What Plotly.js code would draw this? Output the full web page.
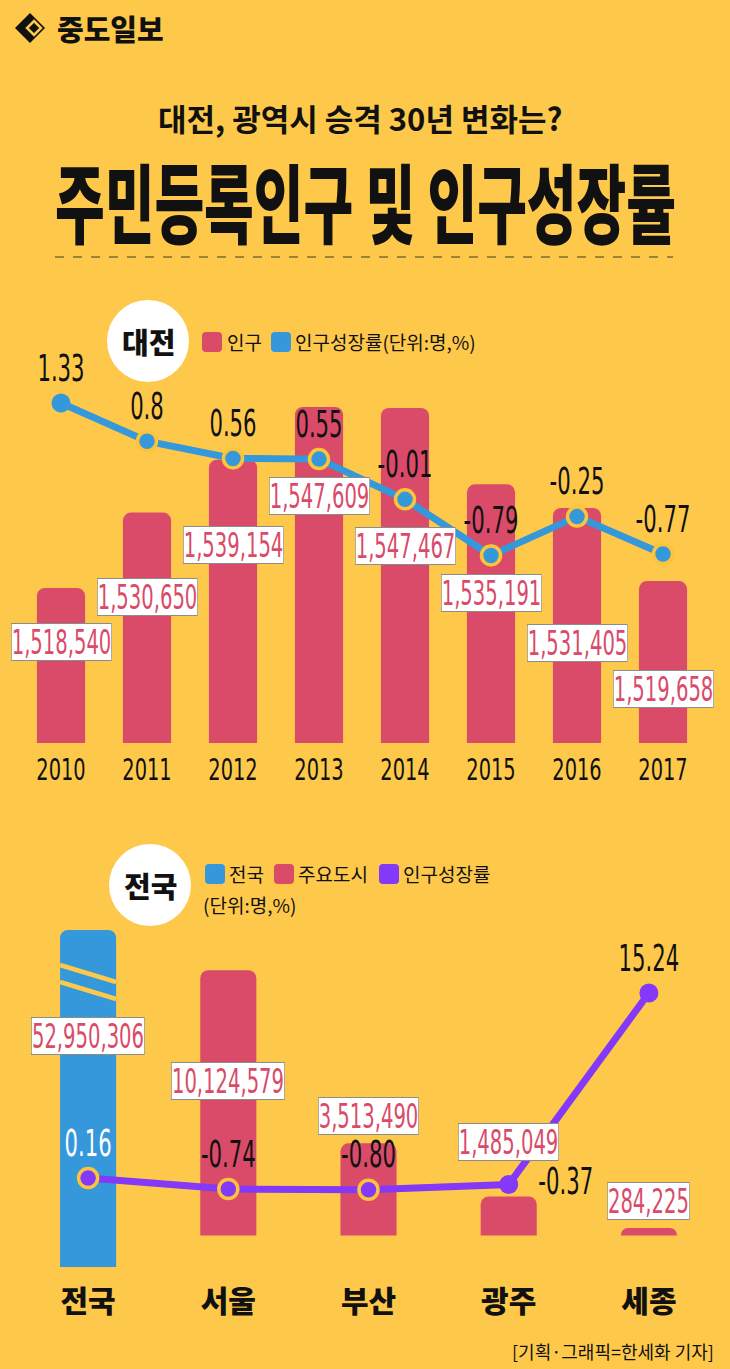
<!DOCTYPE html>
<html><head><meta charset="utf-8">
<script src="https://cdn.plot.ly/plotly-3.0.1.min.js"></script>
<style>html,body{margin:0;padding:0;background:#FEC94B;overflow:hidden;} #chart{width:730px;height:1369px;}</style>
</head><body><div id="chart"></div>
<script>
// ---------- data ----------
const years = ['2010','2011','2012','2013','2014','2015','2016','2017'];
const djPopulation = [1518540,1530650,1539154,1547609,1547467,1535191,1531405,1519658];
const djGrowth = [1.33,0.8,0.56,0.55,-0.01,-0.79,-0.25,-0.77];
const regions = ['전국','서울','부산','광주','세종'];
const nationName = ['전국'];
const nationPopulation = [52950306];
const cityNames = ['서울','부산','광주','세종'];
const cityPopulation = [10124579,3513490,1485049,284225];
const regionGrowth = [0.16,-0.74,-0.80,-0.37,15.24];

// ---------- styles ----------
const W = 730, H = 1369;
const PX = x => x / W, PY = y => 1 - y / H;
const BG = '#FEC94B', RED = '#D94B69', BLUE = '#3598DB', PURPLE = '#8438F8', RING = '#FDC43A';
const NUM = '"Liberation Sans Narrow","DejaVu Sans Condensed","Roboto Condensed",Roboto,sans-serif';
const KR = '"Noto Sans CJK KR","Noto Sans KR",sans-serif';
const fmt = v => v.toLocaleString('en-US');
const djLabelShift = [-54,-84,-85,-89,-138,-109,-135,-108];
const regionLabelShift = [-106,-111,27,54,27];

const data = [
  {type:'bar', x:years, y:djPopulation, xaxis:'x', yaxis:'y', width:0.56,
   marker:{color:RED, cornerradius:8}, hoverinfo:'skip'},
  {type:'scatter', mode:'lines+markers+text', x:years, y:djGrowth, xaxis:'x', yaxis:'y2',
   line:{color:BLUE, width:7}, marker:{size:19, color:BLUE, line:{color:RING, width:[0,3.5,3.5,3.5,3.5,3.5,3.5,3.5]}},
   text:djGrowth.map(v=>String(v)), textposition:'top center', cliponaxis:false,
   textfont:{family:NUM, size:38, color:'#111'}, hoverinfo:'skip'},
  {type:'bar', x:cityNames, y:cityPopulation, xaxis:'x2', yaxis:'y3', width:0.4,
   marker:{color:RED, cornerradius:8}, hoverinfo:'skip'},
  {type:'bar', x:nationName, y:nationPopulation, xaxis:'x2', yaxis:'y4', width:0.4,
   marker:{color:BLUE, cornerradius:8}, hoverinfo:'skip'},
  {type:'scatter', mode:'lines+markers+text', x:regions, y:regionGrowth, xaxis:'x2', yaxis:'y5',
   line:{color:PURPLE, width:7}, marker:{size:19, color:PURPLE, line:{color:RING, width:[3.5,3.5,3.5,0,0]}},
   text:regionGrowth.map(v=>v.toFixed(2)),
   textposition:['top center','top center','top center','middle right','top center'], cliponaxis:false,
   textfont:{family:NUM, size:38, color:['#fff','#111','#111','#111','#111']}, hoverinfo:'skip'}
];

function rrect(x0,y0,x1,y1,r){
  return `M${PX(x0+r)},${PY(y0)} L${PX(x1-r)},${PY(y0)} Q${PX(x1)},${PY(y0)} ${PX(x1)},${PY(y0+r)} `+
         `L${PX(x1)},${PY(y1-r)} Q${PX(x1)},${PY(y1)} ${PX(x1-r)},${PY(y1)} L${PX(x0+r)},${PY(y1)} `+
         `Q${PX(x0)},${PY(y1)} ${PX(x0)},${PY(y1-r)} L${PX(x0)},${PY(y0+r)} Q${PX(x0)},${PY(y0)} ${PX(x0+r)},${PY(y0)} Z`;
}
const sq = (x0,y0,c) => ({type:'path', xref:'paper', yref:'paper', path:rrect(x0,y0,x0+20,y0+20,4), fillcolor:c, line:{width:0}});
const circ = (cx,cy,r) => ({type:'circle', xref:'paper', yref:'paper', x0:PX(cx-r), x1:PX(cx+r), y0:PY(cy+r), y1:PY(cy-r), fillcolor:'#fff', line:{width:0}});
function diamond(cx,cy,r,c,lw,fill){
  return {type:'path', xref:'paper', yref:'paper',
    path:`M${PX(cx)},${PY(cy-r)} L${PX(cx+r)},${PY(cy)} L${PX(cx)},${PY(cy+r)} L${PX(cx-r)},${PY(cy)} Z`,
    fillcolor:fill, line:{color:c, width:lw}};
}

const shapes = [
  diamond(30,28,15,'#111',0,'#111'),
  diamond(34,28,7,BG,2.5,'rgba(0,0,0,0)'),
  {type:'line', xref:'paper', yref:'paper', x0:PX(55), x1:PX(673), y0:PY(257), y1:PY(257), line:{color:'#7d6c36', width:1.5, dash:'dash'}},
  circ(148,341,41),
  sq(202,332,RED), sq(271,332,BLUE),
  circ(150,885,41),
  sq(205,864,BLUE), sq(274,864,RED), sq(379,864,PURPLE),
  {type:'line', xref:'x2', yref:'paper', x0:-0.2, x1:0.2, y0:PY(965), y1:PY(982), line:{color:BG, width:4.5}, layer:'above'},
  {type:'line', xref:'x2', yref:'paper', x0:-0.2, x1:0.2, y0:PY(982), y1:PY(999), line:{color:BG, width:4.5}, layer:'above'}
];

const txt = (x,y,text,size,opts={}) => Object.assign({xref:'paper', yref:'paper', x:PX(x), y:PY(y), text, showarrow:false,
  xanchor:'center', yanchor:'middle', font:{family:KR, size, color:'#111'}}, opts);

const annotations = [
  txt(110,28,'중도일보',29,{font:{family:KR,size:29,color:'#111',weight:900}}),
  txt(360,117,'대전, 광역시 승격 30년 변화는?',31,{font:{family:KR,size:31,color:'#111',weight:700}}),
  txt(365,199,'주민등록인구 및 인구성장률',54,{font:{family:KR,size:54,color:'#111',weight:900}}),
  txt(148,341,'대전',29,{font:{family:KR,size:29,color:'#111',weight:900}}),
  txt(225,342,'인구',19,{xanchor:'left'}),
  txt(293,342,'인구성장률(단위:명,%)',19,{xanchor:'left'}),
  txt(150,885,'전국',29,{font:{family:KR,size:29,color:'#111',weight:900}}),
  txt(227,874,'전국',19,{xanchor:'left'}),
  txt(296,874,'주요도시',19,{xanchor:'left'}),
  txt(401,874,'인구성장률',19,{xanchor:'left'}),
  txt(201,904,'(단위:명,%)',19,{xanchor:'left'}),
  txt(716,1351,'[기획·그래픽=한세화 기자]',18,{xanchor:'right'})
];
const boxStyle = {showarrow:false, font:{family:NUM, size:33, color:RED}, bgcolor:'#fff', bordercolor:'#8c8c8c',
  borderwidth:1, borderpad:0, height:36, xanchor:'center', yanchor:'middle'};
years.forEach((yr,i)=>annotations.push(Object.assign({x:i, y:djPopulation[i], xref:'x', yref:'y',
  yshift:djLabelShift[i], text:fmt(djPopulation[i])}, boxStyle)));
annotations.push(Object.assign({x:0, y:nationPopulation[0], xref:'x2', yref:'y4',
  yshift:regionLabelShift[0], text:fmt(nationPopulation[0])}, boxStyle));
cityNames.forEach((c,i)=>annotations.push(Object.assign({x:regions.indexOf(c), y:cityPopulation[i], xref:'x2', yref:'y3',
  yshift:regionLabelShift[i+1], text:fmt(cityPopulation[i])}, boxStyle)));

const hidden = {visible:false, fixedrange:true};
const layout = {
  width:W, height:H, margin:{l:0,r:0,t:0,b:0}, paper_bgcolor:BG, plot_bgcolor:'rgba(0,0,0,0)',
  showlegend:false, barmode:'overlay',
  xaxis:{domain:[PX(18),PX(706)], anchor:'y', type:'category', range:[-0.5,7.5], showgrid:false, zeroline:false,
    showline:false, ticks:'', ticklabelstandoff:6, tickfont:{family:NUM, size:30, color:'#111'}},
  yaxis:Object.assign({domain:[PY(743),PY(370)], range:[1493650,1553550]}, hidden),
  yaxis2:Object.assign({overlaying:'y', range:[-3.40,1.79]}, hidden),
  xaxis2:{domain:[PX(18),PX(719)], anchor:'y3', type:'category', categoryorder:'array', categoryarray:regions,
    range:[-0.5,4.5], showgrid:false, zeroline:false, showline:false, ticks:'', ticklabelstandoff:14,
    tickfont:{family:KR, size:30, color:'#111', weight:900}},
  yaxis3:Object.assign({domain:[PY(1267),PY(930)], range:[-1206000,11656000]}, hidden),
  yaxis4:Object.assign({overlaying:'y3', range:[0,52950306]}, hidden),
  yaxis5:Object.assign({overlaying:'y3', range:[-7.09,20.37]}, hidden),
  shapes, annotations
};

function squeeze(el, sx, sy){
  const b = el.getBBox();
  const cx = b.x + b.width/2, cy = b.y + b.height/2;
  const prev = el.getAttribute('transform') || '';
  el.setAttribute('transform', `${prev} translate(${cx},${cy}) scale(${sx},${sy}) translate(${-cx},${-cy})`);
}

Plotly.newPlot('chart', data, layout, {staticPlot:true}).then(()=>{
  document.querySelectorAll('#chart g.xtick text').forEach(t=>squeeze(t,0.72,1));
  document.querySelectorAll('#chart g.textpoint text').forEach(t=>squeeze(t,0.62,1));
  document.querySelectorAll('#chart text.annotation-text').forEach(t=>{
    const s = t.textContent;
    if (/^[\d,]+$/.test(s)) squeeze(t.parentNode,0.66,1);
    else if (s.indexOf('주민등록인구') >= 0) squeeze(t,1,1.6);
  });
});
</script></body></html>
